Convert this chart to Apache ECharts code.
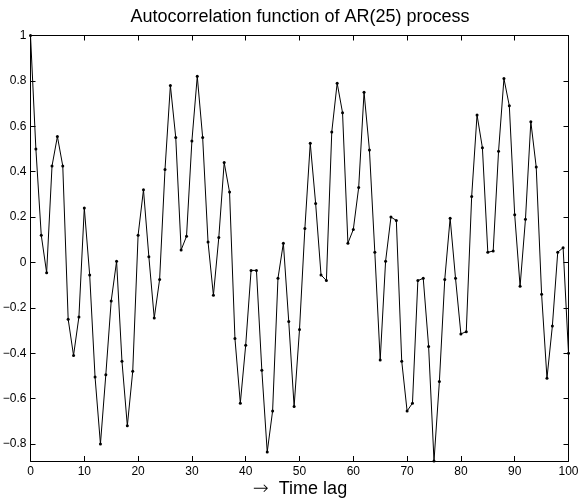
<!DOCTYPE html>
<html>
<head>
<meta charset="utf-8">
<script src="https://cdn.jsdelivr.net/npm/echarts@6/dist/echarts.min.js"></script>
<style>
html,body{margin:0;padding:0;background:#fff;}
#chart{width:578px;height:499px;}
</style>
</head>
<body>
<div id="chart"></div>
<script>
const titleText = 'Autocorrelation function of AR(25) process';
const xLabelArrow = '\u2192';
const xLabelText = 'Time lag';
// autocorrelation values for lags 0..100
const acf = [
  1.0, 0.50, 0.12, -0.045, 0.425, 0.555, 0.425, -0.25, -0.41, -0.24,
  0.24, -0.055, -0.505, -0.80, -0.495, -0.17, 0.005, -0.435, -0.72, -0.48,
  0.12, 0.32, 0.025, -0.245, -0.075, 0.41, 0.78, 0.55, 0.055, 0.115,
  0.535, 0.82, 0.55, 0.09, -0.145, 0.11, 0.44, 0.31, -0.335, -0.62,
  -0.365, -0.035, -0.035, -0.475, -0.835, -0.655, -0.07, 0.085, -0.26, -0.635,
  -0.295, 0.15, 0.525, 0.26, -0.055, -0.08, 0.575, 0.79, 0.66, 0.085,
  0.145, 0.33, 0.75, 0.495, 0.045, -0.43, 0.005, 0.2, 0.185, -0.435,
  -0.655, -0.62, -0.08, -0.07, -0.37, -0.875, -0.525, -0.075, 0.195, -0.07,
  -0.315, -0.305, 0.29, 0.65, 0.505, 0.045, 0.05, 0.49, 0.81, 0.69,
  0.21, -0.105, 0.19, 0.62, 0.42, -0.14, -0.51, -0.28, 0.045, 0.065,
  -0.40
];
const xTicks = [0, 10, 20, 30, 40, 50, 60, 70, 80, 90, 100];
const yTicks = [-0.8, -0.6, -0.4, -0.2, 0, 0.2, 0.4, 0.6, 0.8, 1];
const yMin = -0.875, yMax = 1, xMin = 0, xMax = 100;

const FONT = 'Liberation Sans, Arial, Helvetica, sans-serif';
const fmtY = v => {
  const r = Math.round(v * 10) / 10;
  const s = String(Math.abs(r));
  return r < 0 ? '\u2212' + s : s;
};

const chart = echarts.init(document.getElementById('chart'), null, {renderer: 'canvas'});
const lineStyleAxis = {color: '#000', width: 1};
const tickStyle = {color: '#000', width: 1};

const option = {
  backgroundColor: '#fff',
  animation: false,
  grid: {left: 30.5, right: 9.5, top: 35.5, bottom: 38, containLabel: false, outerBoundsMode: 'none'},
  graphic: [
    {type: 'text', x: 300, y: 17, style: {text: titleText, font: '18px ' + FONT, fill: '#000', textAlign: 'center', textVerticalAlign: 'middle'}},
    {type: 'text', x: 300, y: 489, style: {
      text: '{a|' + xLabelArrow + '}{t|  ' + xLabelText + '}',
      textAlign: 'center', textVerticalAlign: 'middle', fill: '#000',
      rich: {
        a: {fontFamily: 'DejaVu Sans', fontSize: 19, fill: '#000', fontWeight: 'lighter'},
        t: {fontFamily: FONT, fontSize: 18, fill: '#000'}
      }
    }}
  ],
  xAxis: [
    {
      type: 'value', min: xMin, max: xMax, position: 'bottom',
      axisLine: {show: true, onZero: false, lineStyle: lineStyleAxis},
      axisTick: {show: true, inside: true, length: 5, lineStyle: tickStyle, customValues: xTicks},
      axisLabel: {show: true, margin: 5, color: '#000', fontSize: 12, fontFamily: FONT, customValues: xTicks, formatter: v => String(v)},
      splitLine: {show: false}
    },
    {
      type: 'value', min: xMin, max: xMax, position: 'top',
      axisLine: {show: true, onZero: false, lineStyle: lineStyleAxis},
      axisTick: {show: true, inside: true, length: 5, lineStyle: tickStyle, customValues: xTicks},
      axisLabel: {show: false},
      splitLine: {show: false}
    }
  ],
  yAxis: [
    {
      type: 'value', min: yMin, max: yMax, position: 'left',
      axisLine: {show: true, onZero: false, lineStyle: lineStyleAxis},
      axisTick: {show: true, inside: true, length: 5, lineStyle: tickStyle, customValues: yTicks},
      axisLabel: {show: true, margin: 4, color: '#000', fontSize: 12, fontFamily: FONT, customValues: yTicks, formatter: fmtY},
      splitLine: {show: false}
    },
    {
      type: 'value', min: yMin, max: yMax, position: 'right',
      axisLine: {show: true, onZero: false, lineStyle: lineStyleAxis},
      axisTick: {show: true, inside: true, length: 5, lineStyle: tickStyle, customValues: yTicks},
      axisLabel: {show: false},
      splitLine: {show: false}
    }
  ],
  series: [{
    type: 'line',
    xAxisIndex: 0, yAxisIndex: 0,
    data: acf.map((v, i) => [i, v]),
    symbol: 'circle', symbolSize: 3,
    showAllSymbol: true,
    itemStyle: {color: '#000'},
    lineStyle: {color: '#000', width: 1},
    clip: false,
    silent: true
  }]
};
chart.setOption(option);
</script>
</body>
</html>
